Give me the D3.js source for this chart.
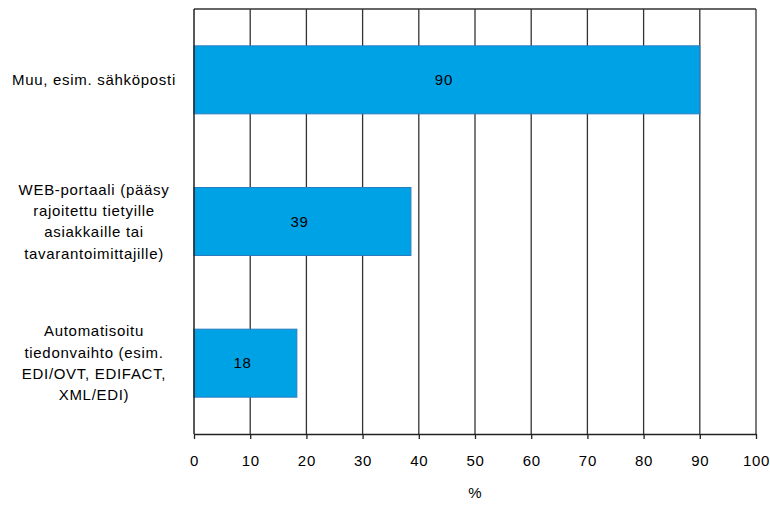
<!DOCTYPE html>
<html><head><meta charset="utf-8">
<script src="https://cdn.jsdelivr.net/npm/d3@7"></script>
<style>body{margin:0;background:#fff}svg{display:block}text{font-family:"Liberation Sans",Arial,sans-serif;fill:#000}</style>
</head><body><svg id="c" width="770" height="505"></svg>
<script>
const categories = [
  ["Muu, esim. sähköposti"],
  ["WEB-portaali (pääsy", "rajoitettu tietyille", "asiakkaille tai", "tavarantoimittajille)"],
  ["Automatisoitu", "tiedonvaihto (esim.", "EDI/OVT, EDIFACT,", "XML/EDI)"]
];
const values = [90, 38.6, 18.3];
const valueLabels = ["90", "39", "18"];
const xTicks = [0,10,20,30,40,50,60,70,80,90,100];
const xTitle = "%";

const svg = d3.select("#c");
const m = {l:194, r:756, t:9, b:434};
const x = d3.scaleLinear().domain([0,100]).range([m.l, m.r]);
const y = d3.scaleBand().domain(d3.range(categories.length)).range([m.t, m.b]).paddingInner(0.52).paddingOuter(0.26);
const fs = "15px", ls = "0.7px";

// grid
svg.append("g").selectAll("line").data(xTicks.slice(1)).join("line")
  .attr("x1", d=>x(d)).attr("x2", d=>x(d)).attr("y1", m.t).attr("y2", m.b)
  .attr("stroke", "#333").attr("stroke-width", 1.3);
svg.append("line").attr("x1", m.l).attr("x2", m.r).attr("y1", m.t).attr("y2", m.t).attr("stroke", "#333").attr("stroke-width", 1.3);

// bars
svg.append("g").selectAll("rect").data(values).join("rect")
  .attr("x", x(0)).attr("y", (d,i)=>y(i)).attr("width", d=>x(d)-x(0)).attr("height", y.bandwidth())
  .attr("fill", "#00a2e6").attr("stroke", "#2a7cc0").attr("stroke-width", 1);

svg.append("g").selectAll("text").data(values).join("text")
  .attr("x", d=>(x(0)+x(d))/2 - 3).attr("y", (d,i)=>y(i)+y.bandwidth()/2).attr("dy", "0.35em")
  .attr("text-anchor", "middle").style("font-size", fs).style("letter-spacing", ls).text((d,i)=>valueLabels[i]);

// left axis line
svg.append("line").attr("x1", m.l).attr("x2", m.l).attr("y1", m.t).attr("y2", m.b).attr("stroke", "#222").attr("stroke-width", 1.5);

// x axis
const ax = svg.append("g").attr("transform", `translate(0,${m.b})`)
  .call(d3.axisBottom(x).tickValues(xTicks).tickSize(5).tickPadding(16).tickSizeOuter(0));
ax.select(".domain").attr("stroke", "#222").attr("stroke-width", 1.5);
ax.selectAll(".tick line").attr("stroke", "#222").attr("stroke-width", 1.3);
ax.selectAll("text").style("font-size", fs).style("letter-spacing", ls).attr("font-family", null);

svg.append("text").attr("x", (m.l+m.r)/2).attr("y", 498).attr("text-anchor", "middle").style("font-size", fs).text(xTitle);

// category labels
const lh = 21.3;
categories.forEach((lines, i) => {
  const cy = y(i) + y.bandwidth()/2;
  const t = svg.append("text").attr("text-anchor", "middle").style("font-size", fs).style("letter-spacing", ls);
  lines.forEach((s, k) => {
    t.append("tspan").attr("x", 94).attr("y", cy + (k - (lines.length-1)/2)*lh).attr("dy", "0.35em").text(s);
  });
});
</script></body></html>
